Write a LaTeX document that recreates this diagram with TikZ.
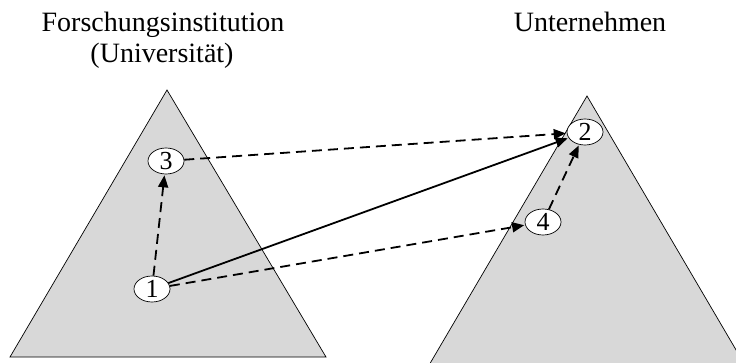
\documentclass[tikz,border=0pt]{standalone}
\usepackage{fontspec}
\setmainfont{Liberation Serif}
\usetikzlibrary{arrows.meta,shapes.geometric}
\definecolor{tri}{RGB}{216,216,216}
\begin{document}
\begin{tikzpicture}[x=1pt,y=1pt,
  lbl/.style={font=\fontsize{28}{31}\selectfont,inner sep=0pt},
  num/.style={ellipse,draw=black,line width=0.7pt,fill=white,minimum width=36pt,minimum height=26pt,inner sep=0pt,font=\fontsize{26}{26}\selectfont},
  pyr/.style={fill=tri,draw=black,line width=0.7pt},
  conn/.style={line width=1.8pt,-{Triangle[length=12pt,width=10pt]},shorten >=1pt},
  dconn/.style={conn,dash pattern=on 10pt off 6pt}]
\useasboundingbox (0,0) rectangle (736,362);
\begin{scope}
\clip (0,0) rectangle (736,362);
\draw[pyr] (10,5) -- (167,272) -- (326,5) -- cycle;
\draw[pyr] (425,-10) -- (587,266) -- (749,-10) -- cycle;
\end{scope}
\node[lbl,anchor=base] (fi) at (163,330) {Forschungsinstitution};
\node[lbl,anchor=base] (uni) at (162,299) {(Universität)};
\node[lbl,anchor=base] (un) at (590,330) {Unternehmen};
\node[num] (n3) at (166,201) {3};
\node[num] (n1) at (152,73) {1};
\node[num] (n2) at (585,230) {2};
\node[num] (n4) at (543,140) {4};
\draw[dconn] (n1) -- (n3);
\draw[dconn] (n3) -- (n2);
\draw[conn] (n1) -- (n2);
\draw[dconn] (n1) -- (n4);
\draw[dconn] (n4) -- (n2);
\end{tikzpicture}
\end{document}
